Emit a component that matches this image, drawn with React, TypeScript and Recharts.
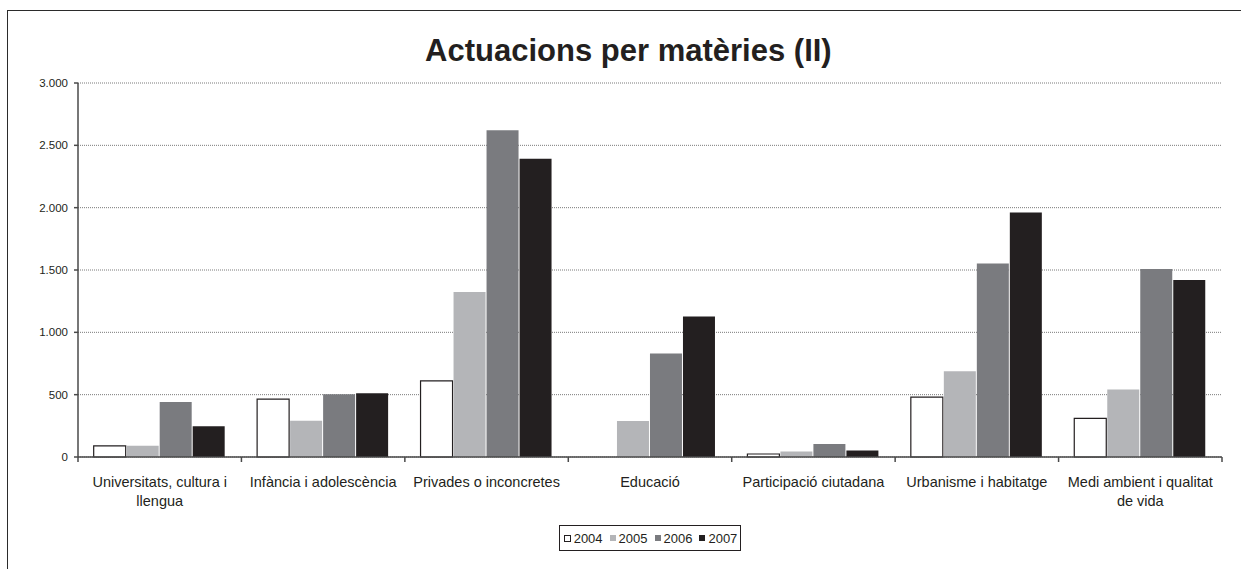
import React from "react";
import { BarChart, Bar, XAxis, YAxis, CartesianGrid, Legend } from "recharts";

const categories = [
  "Universitats, cultura i\nllengua",
  "Infància i adolescència",
  "Privades o inconcretes",
  "Educació",
  "Participació ciutadana",
  "Urbanisme i habitatge",
  "Medi ambient i qualitat\nde vida",
];
const values2004 = [90, 465, 610, 0, 24, 481, 310];
const values2005 = [90, 291, 1323, 289, 45, 687, 542];
const values2006 = [441, 503, 2620, 831, 104, 1553, 1508];
const values2007 = [246, 511, 2393, 1128, 53, 1962, 1420];
const years = ["2004", "2005", "2006", "2007"];
const yTicks = [0, 500, 1000, 1500, 2000, 2500, 3000];
const title = "Actuacions per matèries (II)";

const seriesValues = [values2004, values2005, values2006, values2007];
const fills = ["#ffffff", "#b4b5b8", "#7a7b7f", "#231f20"];
const strokes = ["#231f20", "none", "none", "none"];

const data = categories.map((cat, i) => {
  const row: Record<string, any> = { cat };
  years.forEach((y, k) => {
    row[y] = seriesValues[k][i];
  });
  return row;
});

const FONT = "'Liberation Sans', Arial, Helvetica, sans-serif";
const TEXT = "#231f20";
const AXIS = "#4a4a4a";

const fmt = (v: number) => v.toString().replace(/\B(?=(\d{3})+(?!\d))/g, ".");

const CatTick = (props: any) => {
  const { x, y, payload } = props;
  const off = payload && payload.offset ? payload.offset : 0;
  const lines = String(payload.value).split("\n");
  const isLast = payload.index === categories.length - 1;
  return (
    <g>
      <line x1={x - off} x2={x - off} y1={y} y2={y + 5} stroke={AXIS} strokeWidth={1.5} />
      {isLast && <line x1={x + off} x2={x + off} y1={y} y2={y + 5} stroke={AXIS} strokeWidth={1.5} />}
      <text x={x} y={y + 30} textAnchor="middle" fontSize={14.5} fill={TEXT} fontFamily={FONT}>
        {lines.map((l, i) => (
          <tspan key={i} x={x} dy={i === 0 ? 0 : 18.5}>
            {l}
          </tspan>
        ))}
      </text>
    </g>
  );
};

const LegendBox = () => (
  <div style={{ display: "flex", justifyContent: "center" }}>
    <div
      style={{
        display: "inline-flex",
        alignItems: "center",
        height: 24,
        border: "1px solid #231f20",
        padding: "0 3px 0 4px",
        fontFamily: FONT,
        fontSize: 13,
        color: TEXT,
      }}
    >
      {years.map((y, k) => (
        <span key={y} style={{ display: "inline-flex", alignItems: "center", marginLeft: k === 0 ? 0 : 7 }}>
          <span
            style={{
              display: "inline-block",
              width: k === 0 ? 5 : 6,
              height: k === 0 ? 5 : 6,
              background: fills[k],
              border: k === 0 ? "1px solid #231f20" : "none",
              marginRight: 3,
            }}
          />
          {y}
        </span>
      ))}
    </div>
  </div>
);

export default function App() {
  return (
    <div style={{ position: "absolute", left: 0, top: 0, width: 1241, height: 569, overflow: "hidden", background: "#fff" }}>
      <div
        style={{
          position: "absolute",
          left: 7,
          top: 9.5,
          width: 1300,
          height: 600,
          borderTop: "1.6px solid #2b2b2b",
          borderLeft: "1.6px solid #2b2b2b",
        }}
      />
      <svg style={{ position: "absolute", left: 0, top: 0 }} width={1241} height={80}>
        <text x={628.4} y={60.7} textAnchor="middle" fontSize={31} fontWeight="bold" fill={TEXT} fontFamily={FONT}>
          {title}
        </text>
      </svg>
      <div style={{ position: "absolute", left: 0, top: 0 }}>
        <BarChart
          width={1241}
          height={569}
          data={data}
          margin={{ top: 83, right: 19, bottom: 52, left: 0 }}
          barCategoryGap="9.6%"
          barGap={1}
        >
          <CartesianGrid vertical={false} stroke="#7a7a7a" strokeDasharray="1 1" />
          <XAxis
            dataKey="cat"
            interval={0}
            height={60}
            tickSize={0}
            tickMargin={0}
            tickLine={false}
            axisLine={{ stroke: AXIS, strokeWidth: 1.5 }}
            tick={<CatTick />}
          />
          <YAxis
            width={78}
            domain={[0, 3000]}
            ticks={yTicks}
            tickFormatter={fmt}
            tickSize={4}
            tickMargin={6}
            axisLine={{ stroke: AXIS, strokeWidth: 1.5 }}
            tickLine={{ stroke: AXIS, strokeWidth: 1.5 }}
            tick={{ fontSize: 11.5, fill: TEXT, fontFamily: FONT }}
          />
          <Legend
            layout="horizontal"
            verticalAlign="middle"
            align="center"
            wrapperStyle={{ left: 78, width: 1144, top: 525 }}
            content={<LegendBox />}
          />
          {years.map((y, k) => (
            <Bar
              key={y}
              dataKey={y}
              fill={fills[k]}
              stroke={strokes[k]}
              strokeWidth={1.2}
              isAnimationActive={false}
            />
          ))}
        </BarChart>
      </div>
    </div>
  );
}
